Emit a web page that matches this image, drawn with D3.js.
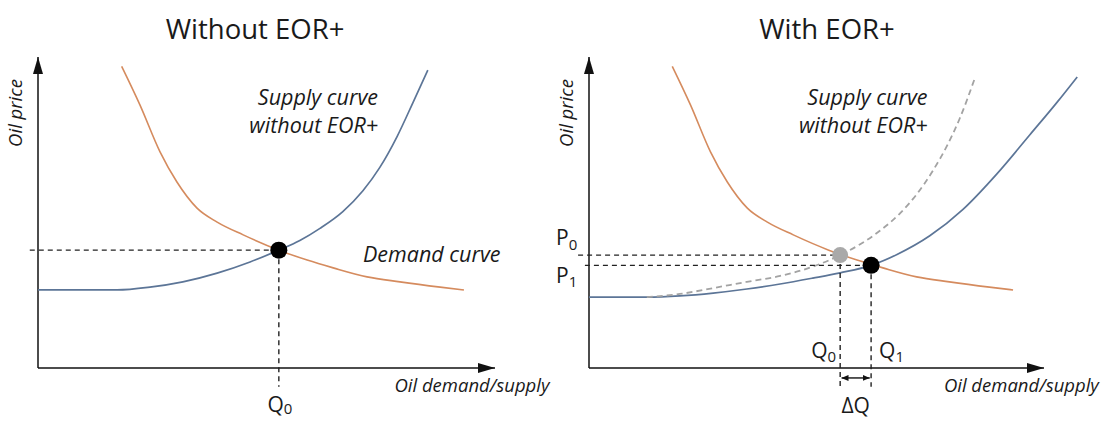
<!DOCTYPE html>
<meta charset="utf-8">
<style>

body {
  margin: 0;
  background: #fff;
}

text {
  font-family: "Open Sans", sans-serif;
  fill: #1a1a1a;
}

.title { font-size: 27.5px; }
.note { font-size: 21.5px; font-style: italic; }
.axis-label { font-size: 18.5px; font-style: italic; }
.sym { font-size: 21px; }

.demand { fill: none; stroke: #d58b5e; stroke-width: 1.6px; }
.supply { fill: none; stroke: #5c7597; stroke-width: 1.7px; }
.old-supply { fill: none; stroke: #a3a3a3; stroke-width: 1.8px; stroke-dasharray: 6 4; }
.guide { fill: none; stroke: #222; stroke-width: 1.4px; stroke-dasharray: 5 4; }
.axis { fill: none; stroke: #111; stroke-width: 1.5px; }

</style>
<body>
<script src="https://d3js.org/d3.v7.min.js"></script>
<script>

var width = 1105,
    height = 421;

// curves as [quantity, price], both on a 0..100 scale
var demand = [[18.3, 97], [22.3, 84.6], [26.7, 69.5], [30.4, 59.8], [34.8, 51.4],
  [39.2, 46.9], [44.9, 42.8], [52.7, 37.9], [58.9, 34.7], [64.6, 32.2],
  [72, 29.3], [79.2, 27.7], [88, 26], [93.2, 25.1]];

var supplyLeft = [[0, 25.1], [17.3, 25.1], [24.5, 26], [31.7, 27.7], [39.2, 30.5],
  [46.4, 34.1], [52.7, 37.9], [57.3, 41], [61.7, 44.9], [66.7, 50.3],
  [71.1, 57], [74.8, 64.5], [78.6, 74.5], [82.1, 85.5], [85.3, 95.8]];

var supplyOld = [[12.7, 22.8], [20, 23.8], [27.3, 25.7], [34.7, 27.7], [42, 29.6],
  [49.2, 32.6], [55.2, 36.3], [59.6, 39.8], [64, 44.2], [68.4, 49.8],
  [72.1, 56], [75.6, 63.5], [78.7, 71.5], [81.5, 80.3], [84.8, 93.2]];

var supplyNew = [[0, 22.8], [12.7, 22.8], [20, 23.2], [27.3, 24.1], [34.7, 25.4],
  [42, 27], [49.2, 28.9], [55.2, 30.6], [62, 33], [67.7, 36.5], [74.9, 42.5],
  [82.2, 51], [89.7, 62.5], [96.9, 75], [102.9, 85.5], [107.3, 93.6]];

// equilibria
var eqLeft = {q: 52.7, p: 37.9},
    eq0 = {q: 55.2, p: 36.3},
    eq1 = {q: 62, p: 33};

var titles = ["Without EOR+", "With EOR+"];

var y = d3.scaleLinear().domain([0, 100]).range([368, 57]);
var xL = d3.scaleLinear().domain([0, 100]).range([38, 495]);
var xR = d3.scaleLinear().domain([0, 100]).range([589, 1044]);

var svg = d3.select("body").append("svg")
    .attr("width", width)
    .attr("height", height);

var defs = svg.append("defs");
defs.append("marker")
    .attr("id", "arrow")
    .attr("markerUnits", "userSpaceOnUse")
    .attr("markerWidth", 17).attr("markerHeight", 10)
    .attr("refX", 17).attr("refY", 5)
    .attr("orient", "auto")
  .append("path")
    .attr("d", "M0,0L17,5L0,10z")
    .attr("fill", "#111");
defs.append("marker")
    .attr("id", "tip")
    .attr("markerUnits", "userSpaceOnUse")
    .attr("markerWidth", 7).attr("markerHeight", 6)
    .attr("refX", 7).attr("refY", 3)
    .attr("orient", "auto-start-reverse")
  .append("path")
    .attr("d", "M0,0L7,3L0,6z")
    .attr("fill", "#111");

function panel(x, title, titleAt) {
  var g = svg.append("g");
  var line = d3.line()
      .x(function(d) { return x(d[0]); })
      .y(function(d) { return y(d[1]); });
  var curve = d3.line()
      .x(function(d) { return x(d[0]); })
      .y(function(d) { return y(d[1]); })
      .curve(d3.curveMonotoneX);

  // axes
  g.append("path").attr("class", "axis")
      .attr("d", line([[0, 0], [0, 100]]))
      .attr("marker-end", "url(#arrow)");
  g.append("path").attr("class", "axis")
      .attr("d", line([[0, 0], [100, 0]]))
      .attr("marker-end", "url(#arrow)");

  g.append("text").attr("class", "title")
      .attr("x", x(titleAt)).attr("y", 39)
      .attr("text-anchor", "middle")
      .text(title);

  g.append("text").attr("class", "axis-label")
      .attr("transform", "translate(" + (x(0) - 16) + ",113) rotate(-90)")
      .attr("text-anchor", "middle")
      .text("Oil price");

  g.append("text").attr("class", "axis-label")
      .attr("x", x(78)).attr("y", 392)
      .text("Oil demand/supply");

  g.append("text").attr("class", "note")
      .attr("x", x(74.4)).attr("y", 105)
      .attr("text-anchor", "end")
      .text("Supply curve");
  g.append("text").attr("class", "note")
      .attr("x", x(74.4)).attr("y", 133)
      .attr("text-anchor", "end")
      .text("without EOR+");

  return {g: g, line: line, curve: curve};
}

function sym(g, letter, sub, px, py, anchor, dy) {
  var t = g.append("text").attr("class", "sym")
      .attr("x", px).attr("y", py)
      .attr("text-anchor", anchor || "start");
  t.append("tspan").text(letter);
  t.append("tspan").attr("font-size", 15).attr("dy", dy || 4).text(sub);
}

// ---- left: without EOR+
var L = panel(xL, titles[0], 47.5);

L.g.append("path").attr("class", "demand").attr("d", L.curve(demand));
L.g.append("path").attr("class", "supply").attr("d", L.curve(supplyLeft));

L.g.append("text").attr("class", "note")
    .attr("x", xL(71.1)).attr("y", 262)
    .text("Demand curve");

L.g.append("path").attr("class", "guide")
    .attr("d", L.line([[-1.8, eqLeft.p], [eqLeft.q, eqLeft.p]]));
L.g.append("path").attr("class", "guide")
    .attr("d", L.line([[eqLeft.q, eqLeft.p], [eqLeft.q, -6]]));

L.g.append("circle")
    .attr("cx", xL(eqLeft.q)).attr("cy", y(eqLeft.p))
    .attr("r", 8.5).attr("fill", "#000");

sym(L.g, "Q", "0", xL(eqLeft.q) + 1, 412, "middle", 2);

// ---- right: with EOR+
var R = panel(xR, titles[1], 52.3);

R.g.append("path").attr("class", "demand").attr("d", R.curve(demand));
R.g.append("path").attr("class", "supply").attr("d", R.curve(supplyNew));
R.g.append("path").attr("class", "old-supply").attr("d", R.curve(supplyOld));

R.g.append("path").attr("class", "guide")
    .attr("d", R.line([[-2.4, eq0.p], [eq0.q, eq0.p]]));
R.g.append("path").attr("class", "guide")
    .attr("d", R.line([[-0.9, eq1.p], [eq1.q, eq1.p]]));
R.g.append("path").attr("class", "guide")
    .attr("d", R.line([[eq0.q, eq0.p], [eq0.q, -6]]));
R.g.append("path").attr("class", "guide")
    .attr("d", R.line([[eq1.q, eq1.p], [eq1.q, -6]]));

R.g.append("path")
    .attr("d", R.line([[eq0.q + 0.3, -3.2], [eq1.q - 0.3, -3.2]]))
    .attr("stroke", "#111").attr("stroke-width", 1.4)
    .attr("marker-start", "url(#tip)")
    .attr("marker-end", "url(#tip)");

R.g.append("circle")
    .attr("cx", xR(eq0.q)).attr("cy", y(eq0.p))
    .attr("r", 8).attr("fill", "#a9a9a9");
R.g.append("circle")
    .attr("cx", xR(eq1.q)).attr("cy", y(eq1.p))
    .attr("r", 8.5).attr("fill", "#000");

sym(R.g, "P", "0", 556, 245, "start", 5);
sym(R.g, "P", "1", 556, 283, "start", 4);
sym(R.g, "Q", "0", xR(eq0.q) - 4, 358, "end", 4);
sym(R.g, "Q", "1", xR(eq1.q) + 8, 358, "start", 4);

R.g.append("text").attr("class", "sym")
    .attr("x", (xR(eq0.q) + xR(eq1.q)) / 2).attr("y", 413)
    .attr("text-anchor", "middle")
    .text("ΔQ");

</script>
